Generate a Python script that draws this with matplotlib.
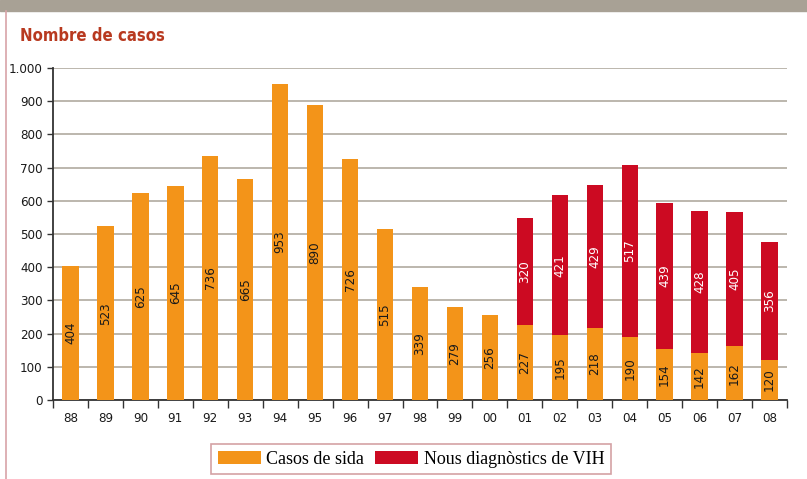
import matplotlib.pyplot as plt
from matplotlib.patches import Rectangle
from matplotlib.ticker import FuncFormatter

years = ['88', '89', '90', '91', '92', '93', '94', '95', '96', '97', '98',
         '99', '00', '01', '02', '03', '04', '05', '06', '07', '08']
sida = [404, 523, 625, 645, 736, 665, 953, 890, 726, 515, 339,
        279, 256, 227, 195, 218, 190, 154, 142, 162, 120]
vih = [0, 0, 0, 0, 0, 0, 0, 0, 0, 0, 0,
       0, 0, 320, 421, 429, 517, 439, 428, 405, 356]

orange = '#f39419'
red = '#cc0a22'
gridc = '#aaa397'

fig = plt.figure(figsize=(8.07, 4.79), dpi=100)

# top grey band + left pink rule
fig.patches.append(Rectangle((0, 1 - 11 / 479), 1, 11 / 479, transform=fig.transFigure,
                             color='#a8a195', zorder=0))
fig.add_artist(plt.Line2D([6 / 807, 6 / 807], [0, 1 - 11 / 479], transform=fig.transFigure,
                          color='#d8a3a8', lw=1.2))

ax = fig.add_axes([53 / 807, 1 - 400 / 479, 734 / 807, 332 / 479])
x = list(range(len(years)))
w = 0.47
ax.bar(x, sida, width=w, color=orange, zorder=3, label='Casos de sida')
ax.bar(x, vih, width=w, bottom=sida, color=red, zorder=3, label='Nous diagnòstics de VIH')

lab_font = dict(family='DejaVu Sans', fontstretch='condensed', fontsize=9.5)
for i in x:
    ax.text(i, sida[i] / 2, str(sida[i]), rotation=90, ha='center', va='center',
            color='#1a1a1a', zorder=4, **lab_font)
    if vih[i]:
        ax.text(i, sida[i] + vih[i] / 2, str(vih[i]), rotation=90, ha='center',
                va='center', color='white', zorder=4, **lab_font)

ax.set_xlim(-0.5, len(years) - 0.5)
ax.set_ylim(0, 1000)
ax.set_yticks(range(0, 1001, 100))
ax.yaxis.set_major_formatter(FuncFormatter(lambda v, p: f'{int(v):,}'.replace(',', '.')))
ax.grid(axis='y', color=gridc, lw=1.1, zorder=1)

ax.set_xticks(x)
ax.set_xticklabels(years)
ax.set_xticks([i - 0.5 for i in range(len(years) + 1)], minor=True)
ax.tick_params(axis='x', which='major', length=0, pad=9)
ax.tick_params(axis='x', which='minor', length=6, width=1, color='#333333')
ax.tick_params(axis='y', length=4, width=1, color='#333333')
for t in ax.get_xticklabels() + ax.get_yticklabels():
    t.set_family('DejaVu Sans')
    t.set_fontstretch('condensed')
    t.set_fontsize(9.5)
    t.set_color('#1a1a1a')

for s in ['top', 'right']:
    ax.spines[s].set_visible(False)
ax.spines['left'].set_color('#333333')
ax.spines['bottom'].set_color('#333333')
ax.spines['left'].set_linewidth(1.3)
ax.spines['bottom'].set_linewidth(1.3)

fig.text(20 / 807, 1 - 36 / 479, 'Nombre de casos', color='#b8391f', fontsize=12,
         fontweight='bold', family='DejaVu Sans', fontstretch='condensed', va='center')

leg = fig.legend(loc='center', bbox_to_anchor=(411 / 807, 1 - 459 / 479), ncol=2,
                 frameon=True, fancybox=False, edgecolor='#c98a8e',
                 prop={'family': 'Liberation Serif', 'size': 13},
                 handlelength=2.4, handleheight=0.7, handletextpad=0.3,
                 columnspacing=0.6, borderpad=0.35)
leg.get_frame().set_linewidth(1.2)

fig.savefig('out.png', dpi=100)
